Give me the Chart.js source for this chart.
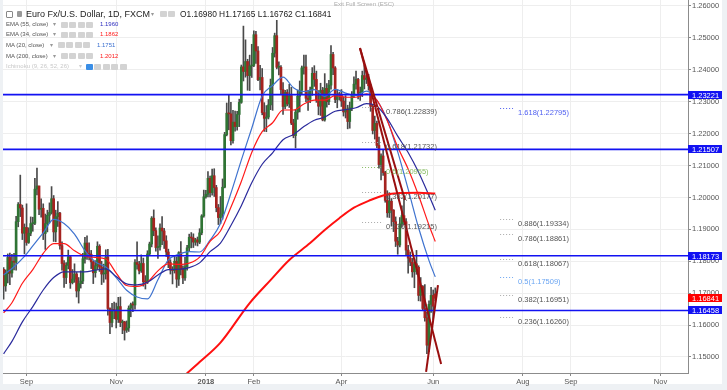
<!DOCTYPE html>
<html>
<head>
<meta charset="utf-8">
<script src="https://cdn.jsdelivr.net/npm/chart.js@4.4.1/dist/chart.umd.min.js"></script>
<style>
  html, body { margin: 0; padding: 0; background: #fff; }
  #wrap { position: relative; width: 727px; height: 390px; overflow: hidden; font-family: "Liberation Sans", Arial, sans-serif; }
  canvas { position: absolute; left: 0; top: 0; }
  .t { position: absolute; white-space: nowrap; line-height: 1; }
  .title { font-size: 9px; color: #222; }
  .ind { font-size: 6px; color: #555; }
  .ic { position: absolute; width: 7px; height: 6px; background: #d3d3d3; border-radius: 1px; }
</style>
</head>
<body>
<div id="wrap">
  <canvas id="chart" width="727" height="390"></canvas>
  <div class="t" style="left:334px;top:1px;font-size:6px;color:#aaa">Exit Full Screen (ESC)</div>
  <div class="ic" style="left:6px;top:11px;width:5px;height:5px;background:#fff;border:1px solid #888"></div>
  <div class="ic" style="left:17px;top:11px;width:5px;height:6px;background:#999"></div>
  <div class="t title" style="left:26px;top:9.5px">Euro Fx/U.S. Dollar, 1D, FXCM</div>
  <div class="t ind" style="left:151px;top:11px;color:#999">▾</div>
  <div class="t title" style="left:180px;top:10px;font-size:8.4px">O1.16980 H1.17165 L1.16762 C1.16841</div>

  <div class="t ind" style="left:6px;top:21.3px">EMA (55, close)</div>
  <div class="t ind" style="left:53px;top:21.3px;color:#999">▾</div>
  <div class="t ind" style="left:100px;top:21.3px;color:#2d2dbf">1.1960</div>

  <div class="t ind" style="left:6px;top:31.3px">EMA (34, close)</div>
  <div class="t ind" style="left:53px;top:31.3px;color:#999">▾</div>
  <div class="t ind" style="left:100px;top:31.3px;color:#ff1a1a">1.1862</div>

  <div class="t ind" style="left:6px;top:41.7px">MA (20, close)</div>
  <div class="t ind" style="left:50px;top:41.7px;color:#999">▾</div>
  <div class="t ind" style="left:97px;top:41.7px;color:#3a6fd0">1.1751</div>

  <div class="t ind" style="left:6px;top:52.7px">MA (200, close)</div>
  <div class="t ind" style="left:53px;top:52.7px;color:#999">▾</div>
  <div class="t ind" style="left:100px;top:52.7px;color:#ff1a1a">1.2012</div>

  <div class="t ind" style="left:6px;top:63.3px;color:#c8c8c8">Ichimoku (9, 26, 52, 26)</div>
  <div class="t ind" style="left:79px;top:63.3px;color:#ccc">▾</div>
</div>
<script>
// EUR/USD daily, FXCM, one bar per trading day starting 17 Aug 2017 (index 0) to 4 Jun 2018 (index 207)
const opens = [
  1.1775,1.1723,1.1761,1.1812,1.1763,1.1800,1.1797,1.1924,1.1978,1.1967,
  1.1888,1.1906,1.1859,1.1888,1.1918,1.1919,1.2026,1.2036,1.1963,1.1966,
  1.1887,1.1918,1.1944,1.1953,1.1996,1.1892,1.1940,1.1951,1.1849,1.1793,
  1.1749,1.1787,1.1814,1.1733,1.1744,1.1760,1.1707,1.1730,1.1738,1.1808,
  1.1857,1.1825,1.1822,1.1798,1.1764,1.1786,1.1847,1.1782,1.1760,1.1761,
  1.1813,1.1652,1.1608,1.1648,1.1646,1.1618,1.1658,1.1608,1.1610,1.1584,
  1.1591,1.1653,1.1664,1.1663,1.1796,1.1790,1.1770,1.1793,1.1736,1.1735,
  1.1823,1.1854,1.1935,1.1896,1.1843,1.1845,1.1904,1.1895,1.1864,1.1829,
  1.1796,1.1773,1.1771,1.1800,1.1744,1.1827,1.1775,1.1748,1.1783,1.1842,
  1.1875,1.1873,1.1860,1.1867,1.1860,1.1889,1.1942,1.2002,1.2010,1.2060,
  1.2015,1.2068,1.2031,1.1968,1.1937,1.1948,1.2032,1.2197,1.2264,1.2262,
  1.2178,1.2236,1.2222,1.2260,1.2298,1.2409,1.2395,1.2426,1.2382,1.2412,
  1.2414,1.2510,1.2459,1.2369,1.2376,1.2266,1.2248,1.2252,1.2290,1.2351,
  1.2452,1.2507,1.2408,1.2408,1.2338,1.2285,1.2329,1.2293,1.2319,1.2233,
  1.2194,1.2267,1.2317,1.2336,1.2406,1.2409,1.2311,1.2307,1.2337,1.2389,
  1.2370,1.2305,1.2286,1.2336,1.2243,1.2342,1.2300,1.2352,1.2448,1.2406,
  1.2307,1.2323,1.2322,1.2302,1.2268,1.2277,1.2238,1.2281,1.2321,1.2355,
  1.2370,1.2327,1.2330,1.2382,1.2370,1.2374,1.2350,1.2286,1.2210,1.2232,
  1.2163,1.2103,1.2130,1.2078,1.1991,1.1952,1.1988,1.1960,1.1924,1.1863,
  1.1851,1.1917,1.1943,1.1924,1.1835,1.1810,1.1797,1.1767,1.1792,1.1781,
  1.1693,1.1721,1.1652,1.1623,1.1537,1.1665,1.1693,1.1698
];
const highs = [
  1.1780,1.1773,1.1823,1.1826,1.1822,1.1825,1.1941,1.1984,1.2070,1.1976,
  1.1917,1.1980,1.1905,1.1939,1.1938,1.2060,1.2092,1.2036,1.1996,1.1980,
  1.1948,1.1960,1.1983,1.2034,1.2006,1.1960,1.1987,1.1953,1.1861,1.1802,
  1.1796,1.1835,1.1818,1.1774,1.1792,1.1765,1.1749,1.1770,1.1825,1.1875,
  1.1880,1.1858,1.1834,1.1801,1.1802,1.1861,1.1852,1.1800,1.1791,1.1836,
  1.1837,1.1654,1.1668,1.1672,1.1669,1.1687,1.1688,1.1616,1.1612,1.1613,
  1.1660,1.1669,1.1673,1.1805,1.1861,1.1800,1.1820,1.1810,1.1755,1.1833,
  1.1860,1.1940,1.1961,1.1905,1.1880,1.1917,1.1940,1.1903,1.1880,1.1838,
  1.1805,1.1783,1.1818,1.1814,1.1830,1.1862,1.1786,1.1812,1.1850,1.1885,
  1.1890,1.1886,1.1872,1.1876,1.1902,1.1946,1.2023,1.2022,1.2081,1.2067,
  1.2089,1.2090,1.2038,1.1978,1.2003,1.2058,1.2204,1.2296,1.2323,1.2298,
  1.2273,1.2271,1.2270,1.2308,1.2415,1.2537,1.2494,1.2433,1.2446,1.2480,
  1.2522,1.2521,1.2473,1.2414,1.2404,1.2297,1.2288,1.2307,1.2371,1.2470,
  1.2515,1.2555,1.2425,1.2413,1.2360,1.2336,1.2338,1.2355,1.2345,1.2245,
  1.2273,1.2336,1.2365,1.2412,1.2446,1.2446,1.2336,1.2346,1.2407,1.2413,
  1.2396,1.2335,1.2358,1.2345,1.2388,1.2357,1.2367,1.2476,1.2455,1.2410,
  1.2338,1.2330,1.2338,1.2315,1.2319,1.2289,1.2299,1.2332,1.2378,1.2396,
  1.2373,1.2346,1.2396,1.2414,1.2396,1.2386,1.2354,1.2292,1.2255,1.2239,
  1.2189,1.2137,1.2149,1.2082,1.2021,1.2015,1.1996,1.1962,1.1939,1.1875,
  1.1937,1.1974,1.1996,1.1934,1.1850,1.1829,1.1809,1.1806,1.1834,1.1786,
  1.1749,1.1724,1.1727,1.1640,1.1676,1.1718,1.1710,1.17165
];
const lows = [
  1.1681,1.1706,1.1732,1.1727,1.1750,1.1773,1.1772,1.1908,1.1940,1.1868,
  1.1823,1.1850,1.1856,1.1880,1.1894,1.1915,1.2008,1.1946,1.1938,1.1868,
  1.1837,1.1892,1.1920,1.1948,1.1862,1.1861,1.1909,1.1838,1.1772,1.1718,
  1.1730,1.1776,1.1715,1.1729,1.1734,1.1688,1.1669,1.1716,1.1730,1.1794,
  1.1806,1.1804,1.1777,1.1730,1.1750,1.1774,1.1768,1.1727,1.1734,1.1744,
  1.1631,1.1573,1.1594,1.1620,1.1591,1.1608,1.1595,1.1573,1.1553,1.1577,
  1.1580,1.1626,1.1642,1.1650,1.1775,1.1760,1.1765,1.1722,1.1713,1.1730,
  1.1820,1.1845,1.1880,1.1832,1.1809,1.1835,1.1852,1.1840,1.1815,1.1780,
  1.1760,1.1729,1.1763,1.1718,1.1724,1.1757,1.1730,1.1740,1.1772,1.1830,
  1.1842,1.1843,1.1850,1.1848,1.1855,1.1883,1.1938,1.1998,1.2002,1.2002,
  1.2007,1.2003,1.1955,1.1915,1.1918,1.1932,1.2030,1.2193,1.2212,1.2165,
  1.2170,1.2208,1.2211,1.2222,1.2295,1.2365,1.2377,1.2336,1.2335,1.2376,
  1.2410,1.2420,1.2366,1.2337,1.2259,1.2207,1.2206,1.2246,1.2275,1.2273,
  1.2440,1.2403,1.2384,1.2323,1.2260,1.2278,1.2287,1.2282,1.2228,1.2187,
  1.2155,1.2245,1.2268,1.2324,1.2386,1.2300,1.2273,1.2297,1.2320,1.2348,
  1.2298,1.2259,1.2257,1.2240,1.2239,1.2283,1.2291,1.2339,1.2385,1.2297,
  1.2281,1.2305,1.2285,1.2255,1.2249,1.2215,1.2217,1.2272,1.2313,1.2339,
  1.2309,1.2304,1.2316,1.2340,1.2357,1.2336,1.2270,1.2199,1.2183,1.2156,
  1.2092,1.2055,1.2069,1.1985,1.1938,1.1937,1.1910,1.1893,1.1846,1.1822,
  1.1845,1.1907,1.1915,1.1818,1.1763,1.1786,1.1750,1.1717,1.1759,1.1676,
  1.1675,1.1645,1.1612,1.1510,1.1517,1.1640,1.1616,1.16762
];
const closes = [
  1.1723,1.1761,1.1812,1.1763,1.1800,1.1797,1.1924,1.1978,1.1967,1.1888,
  1.1906,1.1859,1.1888,1.1918,1.1919,1.2026,1.2036,1.1963,1.1966,1.1887,
  1.1918,1.1944,1.1953,1.1996,1.1892,1.1940,1.1951,1.1849,1.1793,1.1749,
  1.1787,1.1814,1.1733,1.1744,1.1760,1.1707,1.1730,1.1738,1.1808,1.1857,
  1.1825,1.1822,1.1798,1.1764,1.1786,1.1847,1.1782,1.1760,1.1761,1.1813,
  1.1652,1.1608,1.1648,1.1646,1.1618,1.1658,1.1608,1.1610,1.1584,1.1591,
  1.1653,1.1664,1.1663,1.1796,1.1790,1.1770,1.1793,1.1736,1.1735,1.1823,
  1.1854,1.1935,1.1896,1.1843,1.1845,1.1904,1.1895,1.1864,1.1829,1.1796,
  1.1773,1.1771,1.1800,1.1744,1.1827,1.1775,1.1748,1.1783,1.1842,1.1875,
  1.1873,1.1860,1.1867,1.1860,1.1889,1.1942,1.2002,1.2010,1.2060,1.2015,
  1.2068,1.2031,1.1968,1.1937,1.1948,1.2032,1.2197,1.2264,1.2262,1.2178,
  1.2236,1.2222,1.2260,1.2298,1.2409,1.2395,1.2426,1.2382,1.2412,1.2414,
  1.2510,1.2459,1.2369,1.2376,1.2266,1.2248,1.2252,1.2290,1.2351,1.2452,
  1.2507,1.2408,1.2408,1.2338,1.2285,1.2329,1.2293,1.2319,1.2233,1.2194,
  1.2267,1.2317,1.2336,1.2406,1.2409,1.2311,1.2307,1.2337,1.2389,1.2370,
  1.2305,1.2286,1.2336,1.2243,1.2342,1.2300,1.2352,1.2448,1.2406,1.2307,
  1.2323,1.2322,1.2302,1.2268,1.2277,1.2238,1.2281,1.2321,1.2355,1.2370,
  1.2327,1.2330,1.2382,1.2370,1.2374,1.2350,1.2286,1.2210,1.2232,1.2163,
  1.2103,1.2130,1.2078,1.1991,1.1952,1.1988,1.1960,1.1924,1.1863,1.1851,
  1.1917,1.1943,1.1924,1.1835,1.1810,1.1797,1.1767,1.1792,1.1781,1.1693,
  1.1721,1.1652,1.1623,1.1537,1.1665,1.1693,1.1659,1.16841
];

// indicator lines, [bar index, value]
const ema55 = [[0,1.1510],[4,1.1549],[9,1.1610],[14,1.1658],[19,1.1710],[24,1.1749],[29,1.1767],[34,1.1767],[39,1.1767],[44,1.1772],[49,1.1776],[54,1.1752],[59,1.1729],[64,1.1726],[69,1.1734],[74,1.1757],[79,1.1774],[84,1.1775],[89,1.1780],[94,1.1795],[99,1.1830],[104,1.1857],[109,1.1912],[114,1.1974],[119,1.2046],[124,1.2104],[129,1.2140],[134,1.2181],[139,1.2197],[144,1.2222],[149,1.2242],[154,1.2252],[159,1.2270],[164,1.2275],[169,1.2281],[174,1.2294],[179,1.2286],[184,1.2247],[189,1.2192],[194,1.2141],[199,1.2079],[204,1.2006],[207,1.1960]];
const ema34 = [[0,1.1638],[4,1.1670],[9,1.1731],[14,1.1774],[19,1.1825],[24,1.1855],[29,1.1855],[34,1.1833],[39,1.1816],[44,1.1812],[49,1.1807],[54,1.1763],[59,1.1724],[64,1.1721],[69,1.1734],[74,1.1770],[79,1.1792],[84,1.1790],[89,1.1794],[94,1.1813],[99,1.1862],[104,1.1895],[109,1.1969],[114,1.2050],[119,1.2141],[124,1.2206],[129,1.2234],[134,1.2274],[139,1.2274],[144,1.2293],[149,1.2305],[154,1.2305],[159,1.2319],[164,1.2314],[169,1.2314],[174,1.2325],[179,1.2305],[184,1.2240],[189,1.2158],[194,1.2089],[199,1.2006],[204,1.1913],[207,1.1862]];
const ma20 = [[0,1.1757],[5,1.1783],[10,1.1815],[14,1.1848],[19,1.1889],[24,1.1931],[29,1.1918],[34,1.1885],[39,1.1833],[44,1.1798],[49,1.1782],[54,1.1749],[59,1.1709],[64,1.1688],[69,1.1682],[74,1.1742],[79,1.1804],[84,1.1822],[89,1.1830],[94,1.1829],[99,1.1866],[104,1.1918],[109,1.2013],[114,1.2117],[119,1.2217],[124,1.2318],[129,1.2351],[134,1.2377],[139,1.2344],[144,1.2332],[149,1.2338],[154,1.2317],[159,1.2339],[164,1.2327],[169,1.2319],[174,1.2333],[179,1.2304],[184,1.2242],[189,1.2143],[194,1.2026],[199,1.1905],[204,1.1802],[207,1.1751]];
const ma200 = [[86,1.1437],[94,1.1484],[104,1.1545],[118,1.1669],[128,1.1741],[137,1.1804],[147,1.1857],[154,1.1898],[161,1.1935],[168,1.1968],[176,1.1992],[182,1.2006],[190,1.2014],[199,1.2015],[207,1.2012]];

// horizontal support / resistance levels and last price
const levels = [1.23221, 1.21507, 1.18173, 1.16458];
const lastPrice = 1.16841;

// trend lines, [bar index, price] end points
const trendA = [[170.9,1.2468],[209.8,1.1478]];
const trendB = [[170.9,1.2468],[192.5,1.1992]];
const trendC = [[202.6,1.1453],[208.3,1.1725]];

// fibonacci labels
const fibARatios = ['0.786','0.618','0.5','0.382','0.236'];
const fibALevels = [1.22839, 1.21732, 1.20955, 1.20177, 1.19215];
const fibBRatios = ['1.618','0.886','0.786','0.618','0.5','0.382','0.236'];
const fibBLevels = [1.22795, 1.19334, 1.18861, 1.18067, 1.17509, 1.16951, 1.16260];

// axis ticks
const xTickIdx = [11, 54, 97, 120, 162, 206, 249, 272, 315];
const xTickLabels = ['Sep','Nov','2018','Feb','Apr','Jun','Aug','Sep','Nov'];
const yTicks = [1.15,1.16,1.17,1.18,1.19,1.20,1.21,1.22,1.23,1.24,1.25,1.26];

// small grey buttons next to legend entries
const wrap = document.getElementById('wrap');
function icons(x, y, n, first) {
  for (let i = 0; i < n; i++) {
    const d = document.createElement('div');
    d.className = 'ic';
    d.style.left = (x + i * 8.4) + 'px';
    d.style.top = y + 'px';
    if (i === 0 && first) d.style.background = first;
    wrap.appendChild(d);
  }
}
icons(160, 11, 2);
icons(61, 21.5, 4);
icons(61, 31.5, 4);
icons(58, 42, 4);
icons(61, 53, 4);
icons(86, 63.5, 5, '#3a8ee6');

const pts = arr => arr.map(p => ({x: p[0], y: p[1]}));
const hline = v => [{x: -5, y: v}, {x: 335, y: v}];

const frame = {
  id: 'frame',
  beforeDraw(chart) {
    const c = chart.ctx;
    c.save();
    c.fillStyle = '#eef1f4';
    c.fillRect(0, 0, 727, 390);
    c.fillStyle = '#ffffff';
    c.fillRect(3, 0, 719, 384);
    c.restore();
  }
};

const fib = {
  id: 'fib',
  afterDatasetsDraw(chart) {
    const {ctx, scales: {x, y}} = chart;
    const sets = [
      {r: fibARatios, l: fibALevels, from: 171.9, to: 182.0, at: 183.4,
       col: r => r === '0.5' ? '#86bb62' : '#555'},
      {r: fibBRatios, l: fibBLevels, from: 238.1, to: 244.3, at: 246.7,
       col: r => r === '1.618' ? '#4f5ff0' : r === '0.5' ? '#6aa5f2' : '#555'}
    ];
    ctx.save();
    ctx.font = '7.5px "Liberation Sans", Arial, sans-serif';
    ctx.textBaseline = 'middle';
    ctx.lineWidth = 1;
    sets.forEach(s => s.l.forEach((v, i) => {
      const py = Math.round(y.getPixelForValue(v)) + 0.5;
      const c = s.col(s.r[i]);
      ctx.strokeStyle = c === '#555' ? '#aaa' : c;
      ctx.setLineDash([1, 2]);
      ctx.beginPath();
      ctx.moveTo(x.getPixelForValue(s.from), py);
      ctx.lineTo(x.getPixelForValue(s.to), py);
      ctx.stroke();
      ctx.fillStyle = c;
      ctx.fillText(s.r[i] + '(' + v.toFixed(5) + ')', x.getPixelForValue(s.at), py + 4);
    }));
    ctx.restore();
  }
};

const priceBoxes = {
  id: 'priceBoxes',
  afterDraw(chart) {
    const {ctx, chartArea, scales: {y}} = chart;
    const box = (v, bg) => {
      const py = Math.round(y.getPixelForValue(v));
      ctx.fillStyle = bg;
      ctx.fillRect(chartArea.right, py - 4, 34, 8);
      ctx.fillStyle = '#fff';
      ctx.fillText(v.toFixed(5), chartArea.right + 4, py + 0.5);
    };
    ctx.save();
    ctx.font = '7.5px "Liberation Sans", Arial, sans-serif';
    ctx.textBaseline = 'middle';
    levels.forEach(v => box(v, '#1212f2'));
    box(lastPrice, '#ff0000');
    ctx.restore();
  }
};

const up = closes.map((c, i) => c >= opens[i]);
const lineDs = (data, color, width, order) => ({
  type: 'line', data, borderColor: color, borderWidth: width, pointRadius: 0,
  cubicInterpolationMode: 'monotone', order
});

Chart.defaults.font.family = '"Liberation Sans", Arial, sans-serif';

new Chart(document.getElementById('chart'), {
  type: 'bar',
  data: {
    datasets: [
      {type: 'line', data: pts(trendA), borderColor: '#990f0f', borderWidth: 2, pointRadius: 0, order: 1},
      {type: 'line', data: pts(trendB), borderColor: '#990f0f', borderWidth: 2, pointRadius: 0, order: 1},
      {type: 'line', data: pts(trendC), borderColor: '#990f0f', borderWidth: 2, pointRadius: 0, order: 1},
      ...levels.map(v => ({type: 'line', data: hline(v), borderColor: '#1212f2', borderWidth: 1.6, pointRadius: 0, order: 2})),
      lineDs(pts(ma200), '#ff1010', 2, 3),
      lineDs(pts(ema55), '#2a2a9c', 1.2, 4),
      lineDs(pts(ema34), '#ff1a1a', 1.2, 4),
      lineDs(pts(ma20), '#3f73cf', 1.2, 4),
      {
        data: closes.map((c, i) => ({x: i, y: [Math.min(opens[i], c), Math.max(opens[i], c)]})),
        backgroundColor: up.map(u => u ? '#2f7434' : '#a52320'),
        barThickness: 2, minBarLength: 1, grouped: false, borderWidth: 0, order: 9
      },
      {
        data: closes.map((c, i) => ({x: i, y: [lows[i], highs[i]]})),
        backgroundColor: '#4a4a4a',
        barThickness: 1, grouped: false, borderWidth: 0, order: 10
      }
    ]
  },
  options: {
    responsive: false,
    animation: false,
    devicePixelRatio: 1,
    layout: {padding: {left: 3, top: 0, right: 0, bottom: 0}},
    plugins: {legend: {display: false}, tooltip: {enabled: false}},
    scales: {
      x: {
        type: 'linear', min: -0.29, max: 328.2, offset: false,
        grid: {color: '#eeeeee', tickLength: 3, tickColor: '#888', offset: false},
        border: {color: '#8c8c8c'},
        afterBuildTicks: s => { s.ticks = xTickIdx.map(v => ({value: v})); },
        afterFit: s => { s.height = 17; s.paddingLeft = 0; s.paddingRight = 0; },
        ticks: {
          autoSkip: false, maxRotation: 0, padding: 1, color: '#555',
          font: c => ({size: 7.5, weight: c.tick && c.tick.value === 97 ? 'bold' : 'normal'}),
          callback: v => xTickLabels[xTickIdx.indexOf(v)]
        }
      },
      y: {
        type: 'linear', position: 'right', min: 1.14498, max: 1.26188,
        grid: {color: '#eeeeee', tickLength: 3, tickColor: '#888'},
        border: {color: '#8c8c8c'},
        afterBuildTicks: s => { s.ticks = yTicks.map(v => ({value: v})); },
        afterFit: s => { s.width = 39; s.paddingTop = 0; s.paddingBottom = 0; },
        ticks: {padding: 1, color: '#555', font: {size: 7.5}, callback: v => v.toFixed(5)}
      }
    }
  },
  plugins: [frame, fib, priceBoxes]
});
</script>
</body>
</html>
